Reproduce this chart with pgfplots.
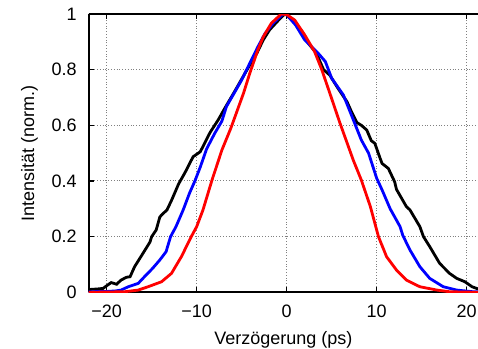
\documentclass[border=0pt]{standalone}
\usepackage{fontspec}
\setmainfont{Liberation Sans}
\usepackage{pgfplots}
\pgfplotsset{compat=1.18}
\begin{document}
\begin{tikzpicture}
\begin{axis}[
  scale only axis, width=194.6pt, height=139.15pt,
  xmin=-22, xmax=21.25, ymin=0, ymax=1,
  axis x line=box, axis y line=left,
  axis line style={line width=1pt, -},
  font=\fontsize{9}{11}\selectfont,
  xtick={-20,-10,0,10,20}, xticklabels={−20,−10,0,10,20},
  ytick={0,0.2,0.4,0.6,0.8,1}, yticklabels={0,0.2,0.4,0.6,0.8,1},
  tick align=inside, major tick length=2.5pt,
  tick style={line width=0.6pt, black},
  grid=major, grid style={densely dotted, gray, line width=0.5pt},
  xticklabel style={yshift=-3pt},
  yticklabel style={xshift=-2.5pt},
  xlabel={Verzögerung (ps)}, ylabel={Intensität (norm.)},
  xlabel style={yshift=0pt},
  clip=true,
]
\addplot[black, line width=1.4pt] coordinates {
(-22.0,0.010) (-21.0,0.012) (-20.4,0.014) (-19.9,0.026) (-19.5,0.035) (-18.9,0.029)
(-18.4,0.044) (-17.8,0.054) (-17.4,0.056) (-16.9,0.092) (-16.2,0.128) (-15.2,0.180)
(-15.0,0.200) (-14.5,0.224) (-14.1,0.270) (-13.9,0.278) (-13.3,0.296) (-12.8,0.330)
(-12.0,0.390) (-11.3,0.430) (-10.4,0.487) (-9.6,0.505) (-8.5,0.575) (-8.2,0.590)
(-7.6,0.620) (-6.9,0.660) (-5.9,0.715) (-4.4,0.800) (-3.3,0.860) (-2.6,0.907)
(-1.9,0.943) (-0.7,0.985) (-0.2,1.000) (0.0,0.996) (0.9,0.967) (1.7,0.936)
(2.4,0.895) (3.3,0.859) (4.1,0.800) (4.8,0.780) (5.7,0.733) (6.7,0.685) (7.2,0.649)
(7.8,0.610) (8.3,0.600) (8.9,0.583) (9.4,0.545) (9.8,0.535) (10.4,0.480) (10.6,0.463)
(11.3,0.445) (12.0,0.397) (12.2,0.370) (13.3,0.308) (13.7,0.296) (14.8,0.236)
(15.2,0.200) (15.9,0.164) (17.0,0.104) (18.1,0.068) (18.9,0.050) (19.8,0.038)
(20.6,0.020) (21.1,0.014) (21.3,0.012)
};
\addplot[blue, line width=1.4pt] coordinates {
(-22.0,0.002) (-20.0,0.003) (-19.0,0.005) (-18.4,0.008) (-17.6,0.020) (-16.5,0.032)
(-15.8,0.056) (-14.9,0.086) (-14.1,0.116) (-13.4,0.146) (-12.9,0.200) (-12.3,0.236)
(-11.5,0.296) (-10.8,0.356) (-10.2,0.400) (-9.6,0.450) (-8.9,0.515) (-8.0,0.571)
(-7.2,0.615) (-6.7,0.667) (-5.0,0.763) (-4.1,0.823) (-3.2,0.882) (-2.4,0.930)
(-1.5,0.967) (-0.4,1.000) (0.0,0.998) (1.0,0.960) (2.0,0.907) (3.5,0.859) (4.3,0.829)
(5.0,0.769) (6.3,0.709) (7.4,0.620) (8.3,0.547) (9.1,0.500) (10.0,0.410) (10.6,0.368)
(11.5,0.300) (12.6,0.236) (12.9,0.205) (13.7,0.152) (14.8,0.092) (15.9,0.050)
(17.4,0.020) (18.9,0.008) (20.7,0.002) (21.3,0.002)
};
\addplot[red, line width=1.4pt] coordinates {
(-22.0,0.000) (-18.0,0.002) (-16.5,0.008) (-15.4,0.020) (-13.9,0.038) (-12.8,0.068)
(-11.7,0.128) (-10.6,0.200) (-10.0,0.236) (-9.3,0.296) (-8.3,0.403) (-7.2,0.511)
(-6.2,0.590) (-4.8,0.715) (-4.1,0.787) (-3.2,0.871) (-2.6,0.918) (-1.7,0.967)
(-0.6,1.000) (0.0,0.998) (0.9,0.978) (2.0,0.925) (3.1,0.865) (3.9,0.800) (4.8,0.715)
(5.9,0.610) (7.4,0.475) (8.3,0.403) (9.3,0.308) (10.2,0.200) (11.1,0.128) (12.2,0.080)
(13.3,0.044) (14.8,0.020) (16.7,0.008) (18.1,0.002) (21.3,0.000)
};
\end{axis}
\pgfresetboundingbox
\path (current axis.south west) ++(-44.35pt,-28.35pt) rectangle ++(239pt,174.5pt);
\end{tikzpicture}
\end{document}
